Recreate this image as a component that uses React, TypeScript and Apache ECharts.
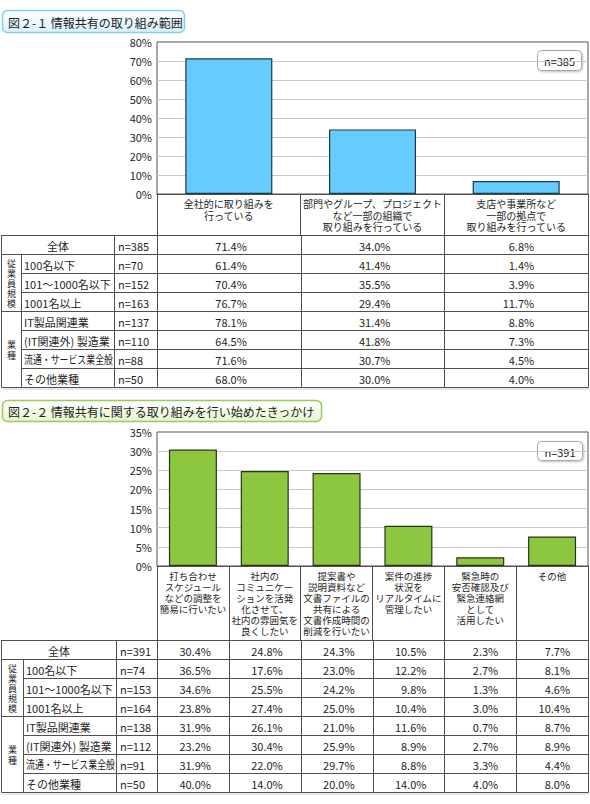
import React, { useEffect, useRef } from 'react';
import * as echarts from 'echarts';

const FONT = '"Noto Sans CJK JP", "Noto Sans", sans-serif';

// ---------- data: chart 1 ----------
const chart1Title = '図２-１ 情報共有の取り組み範囲';
const chart1Categories = [
  '全社的に取り組みを\n行っている',
  '部門やグループ、プロジェクト\nなど一部の組織で\n取り組みを行っている',
  '支店や事業所など\n一部の拠点で\n取り組みを行っている',
];
const chart1YMin = 0;
const chart1YMax = 80;
const chart1YInterval = 10;
const chart1N = [385, 70, 152, 163, 137, 110, 88, 50];
const chart1Rows = [
  [71.4, 34.0, 6.8],
  [61.4, 41.4, 1.4],
  [70.4, 35.5, 3.9],
  [76.7, 29.4, 11.7],
  [78.1, 31.4, 8.8],
  [64.5, 41.8, 7.3],
  [71.6, 30.7, 4.5],
  [68.0, 30.0, 4.0],
];

// ---------- data: chart 2 ----------
const chart2Title = '図２-２ 情報共有に関する取り組みを行い始めたきっかけ';
const chart2Categories = [
  '打ち合わせ\nスケジュール\nなどの調整を\n簡易に行いたい',
  '社内の\nコミュニケー\nションを活発\n化させて、\n社内の雰囲気を\n良くしたい',
  '提案書や\n説明資料など\n文書ファイルの\n共有による\n文書作成時間の\n削減を行いたい',
  '案件の進捗\n状況を\nリアルタイムに\n管理したい',
  '緊急時の\n安否確認及び\n緊急連絡網\nとして\n活用したい',
  'その他',
];
const chart2YMin = 0;
const chart2YMax = 35;
const chart2YInterval = 5;
const chart2N = [391, 74, 153, 164, 138, 112, 91, 50];
const chart2Rows = [
  [30.4, 24.8, 24.3, 10.5, 2.3, 7.7],
  [36.5, 17.6, 23.0, 12.2, 2.7, 8.1],
  [34.6, 25.5, 24.2, 9.8, 1.3, 4.6],
  [23.8, 27.4, 25.0, 10.4, 3.0, 10.4],
  [31.9, 26.1, 21.0, 11.6, 0.7, 8.7],
  [23.2, 30.4, 25.9, 8.9, 2.7, 8.9],
  [31.9, 22.0, 29.7, 8.8, 3.3, 4.4],
  [40.0, 14.0, 20.0, 14.0, 4.0, 8.0],
];

// ---------- shared table labels ----------
const rowLabels = [
  '全体',
  '100名以下',
  '101～1000名以下',
  '1001名以上',
  'IT製品関連業',
  '(IT関連外) 製造業',
  '流通・サービス業全般',
  'その他業種',
];
const groupLabels = ['従業員規模', '業種'];

// ---------- layout ----------
const PLOT_L = 157;
const PLOT_R = 588;
const ROW_H = 19;

const L1 = {
  title: { x: 2, y: 10, w: 182, h: 22, stroke: '#86cdef', fill2: '#d9f1fc' },
  top: 42, bottom: 194, tableTop: 235, groupR: 21, labelR: 114,
  nBox: { x: 537, y: 50, w: 44, h: 20 },
  labelSize: 10, labelLH: 11.5,
};
const L2 = {
  title: { x: 2, y: 400, w: 319, h: 21, stroke: '#9acb5c', fill2: '#e6f5d2' },
  top: 432, bottom: 566, tableTop: 640, groupR: 23, labelR: 116,
  nBox: { x: 537, y: 441, w: 45, h: 19 },
  labelSize: 9.5, labelLH: 11,
};

let measureCtx: CanvasRenderingContext2D | null = null;
function textWidth(text: string, size: number): number {
  if (!measureCtx) {
    const c = document.createElement('canvas');
    measureCtx = c.getContext('2d');
  }
  if (!measureCtx) return text.length * size;
  measureCtx.font = `${size}px ${FONT}`;
  return measureCtx.measureText(text).width;
}

const fmt = (v: number) => v.toFixed(1) + '%';

function titleBox(cfg: any, text: string): any[] {
  const t = cfg.title;
  return [
    {
      type: 'rect',
      silent: true,
      shape: { x: t.x + 0.5, y: t.y + 0.5, width: t.w, height: t.h, r: 5 },
      style: {
        fill: new echarts.graphic.LinearGradient(0, 0, 0, 1, [
          { offset: 0, color: '#ffffff' },
          { offset: 1, color: t.fill2 },
        ]),
        stroke: t.stroke,
        lineWidth: 1.5,
      },
    },
    {
      type: 'text',
      silent: true,
      x: t.x + 6,
      y: t.y + t.h / 2 + 1,
      style: {
        text,
        fontSize: 12,
        fontFamily: FONT,
        fill: '#222',
        textAlign: 'left',
        textVerticalAlign: 'middle',
      },
    },
  ];
}

function nBox(cfg: any, n: number): any[] {
  const b = cfg.nBox;
  return [
    {
      type: 'rect',
      silent: true,
      shape: { x: b.x + 0.5, y: b.y + 0.5, width: b.w, height: b.h, r: 4 },
      style: {
        fill: '#ffffff',
        stroke: '#a8a8a8',
        lineWidth: 1,
        shadowBlur: 2,
        shadowOffsetX: 1,
        shadowOffsetY: 1,
        shadowColor: 'rgba(0,0,0,0.25)',
      },
    },
    {
      type: 'text',
      silent: true,
      x: b.x + b.w / 2 + 0.5,
      y: b.y + b.h / 2 + 1,
      style: {
        text: 'n=' + n,
        fontSize: 11,
        fontFamily: FONT,
        fill: '#222',
        textAlign: 'center',
        textVerticalAlign: 'middle',
      },
    },
  ];
}

function table(cfg: any, rows: number[][], ns: number[]): any[] {
  const els: any[] = [];
  const top = cfg.tableTop;
  const nRows = rows.length;
  const bottom = top + ROW_H * nRows;
  const L = 1.5;
  const R = PLOT_R + 0.5;
  const gR = cfg.groupR + 0.5;
  const lR = cfg.labelR + 0.5;
  const line = (x1: number, y1: number, x2: number, y2: number, color = '#505050') =>
    els.push({ type: 'line', silent: true, shape: { x1, y1, x2, y2 }, style: { stroke: color, lineWidth: 1 } });

  // shadow under table
  line(L + 1, bottom + 2, R + 1, bottom + 2, '#d0d0d0');

  const inner = [2, 3, 5, 6, 7];
  for (let k = 0; k <= nRows; k++) {
    const y = top + k * ROW_H + 0.5;
    line(inner.indexOf(k) >= 0 ? gR : L, y, R, y);
  }
  line(L, top, L, bottom + 0.5);
  line(gR, top + ROW_H, gR, bottom + 0.5);
  line(lR, top, lR, bottom + 0.5);
  const nCat = rows[0].length;
  const cw = (PLOT_R - PLOT_L) / nCat;
  for (let i = 0; i <= nCat; i++) {
    const x = Math.round(PLOT_L + i * cw) + 0.5;
    line(x, top, x, bottom + 0.5);
  }

  const txt = (text: string, x: number, y: number, align: string, size = 11, maxW = 0) => {
    let sx = 1;
    if (maxW > 0) {
      const w = textWidth(text, size);
      if (w > maxW) sx = maxW / w;
    }
    els.push({
      type: 'text',
      silent: true,
      x,
      y,
      scaleX: sx,
      style: {
        text,
        fontSize: size,
        fontFamily: FONT,
        fill: '#1e1e1e',
        textAlign: align,
        textVerticalAlign: 'middle',
      },
    });
  };

  for (let r = 0; r < nRows; r++) {
    const cy = top + r * ROW_H + ROW_H / 2 + 1;
    if (r === 0) {
      txt(rowLabels[r], (L + lR) / 2, cy, 'center');
    } else {
      txt(rowLabels[r], gR + 2.5, cy, 'left', 11, lR - gR - 4);
    }
    txt('n=' + ns[r], lR + 3.5, cy, 'left');
    for (let c = 0; c < nCat; c++) {
      const cx = PLOT_L + (c + 0.5) * cw;
      txt(fmt(rows[r][c]), cx + 18, cy, 'right');
    }
  }
  // group labels (vertical, one character per text so they never overlap)
  const vert = (label: string, cy: number, step: number) => {
    const chars = label.split('');
    const y0 = cy - ((chars.length - 1) * step) / 2;
    chars.forEach((ch, i) => {
      els.push({
        type: 'text',
        silent: true,
        x: (L + gR) / 2,
        y: y0 + i * step,
        style: {
          text: ch,
          fontSize: 9,
          fontFamily: FONT,
          fill: '#1e1e1e',
          textAlign: 'center',
          textVerticalAlign: 'middle',
        },
      });
    });
  };
  vert(groupLabels[0], top + ROW_H * 1 + (ROW_H * 3) / 2 + 1, 10);
  vert(groupLabels[1], top + ROW_H * 4 + (ROW_H * 4) / 2 + 1, 10.5);
  return els;
}

function xAxisCfg(gridIndex: number, data: string[], tickLen: number, size: number, lineHeight: number) {
  return {
    type: 'category',
    gridIndex,
    data,
    boundaryGap: true,
    axisLine: { show: true, lineStyle: { color: '#505050', width: 1 } },
    axisTick: { show: true, length: tickLen, interval: 0, alignWithLabel: false, lineStyle: { color: '#505050', width: 1 } },
    axisLabel: {
      interval: 0,
      margin: 4,
      fontSize: size,
      lineHeight,
      color: '#1e1e1e',
      fontFamily: FONT,
      align: 'center',
      verticalAlign: 'top',
    },
    splitLine: { show: false },
  };
}

function yAxisCfg(gridIndex: number, min: number, max: number, interval: number) {
  return {
    type: 'value',
    gridIndex,
    min,
    max,
    interval,
    axisLine: { show: false },
    axisTick: { show: false },
    axisLabel: { formatter: '{value}%', fontSize: 11, color: '#262626', margin: 5, fontFamily: FONT },
    splitLine: { show: true, showMinLine: false, showMaxLine: false, lineStyle: { color: '#c9c9c9', width: 1 } },
  };
}

export default function App() {
  const ref = useRef<HTMLDivElement>(null);
  useEffect(() => {
    if (!ref.current) return;
    const chart = echarts.init(ref.current, undefined, { renderer: 'svg' });
    const option: any = {
      animation: false,
      backgroundColor: '#ffffff',
      textStyle: { fontFamily: FONT },
      grid: [
        { left: PLOT_L, top: L1.top, width: PLOT_R - PLOT_L, height: L1.bottom - L1.top, show: true, borderColor: '#505050', borderWidth: 1, backgroundColor: '#fff' },
        { left: PLOT_L, top: L2.top, width: PLOT_R - PLOT_L, height: L2.bottom - L2.top, show: true, borderColor: '#505050', borderWidth: 1, backgroundColor: '#fff' },
      ],
      xAxis: [
        xAxisCfg(0, chart1Categories, L1.tableTop - L1.bottom, L1.labelSize, L1.labelLH),
        xAxisCfg(1, chart2Categories, L2.tableTop - L2.bottom, L2.labelSize, L2.labelLH),
      ],
      yAxis: [
        yAxisCfg(0, chart1YMin, chart1YMax, chart1YInterval),
        yAxisCfg(1, chart2YMin, chart2YMax, chart2YInterval),
      ],
      series: [
        {
          type: 'bar',
          xAxisIndex: 0,
          yAxisIndex: 0,
          data: chart1Rows[0],
          barWidth: 87,
          silent: true,
          itemStyle: { color: '#66ccff', borderColor: '#1d3846', borderWidth: 1.2 },
        },
        {
          type: 'bar',
          xAxisIndex: 1,
          yAxisIndex: 1,
          data: chart2Rows[0],
          barWidth: 48,
          silent: true,
          itemStyle: { color: '#8dc63f', borderColor: '#27361a', borderWidth: 1.2 },
        },
      ],
      graphic: [
        ...titleBox(L1, chart1Title),
        ...nBox(L1, chart1N[0]),
        ...table(L1, chart1Rows, chart1N),
        ...titleBox(L2, chart2Title),
        ...nBox(L2, chart2N[0]),
        ...table(L2, chart2Rows, chart2N),
      ],
    };
    chart.setOption(option);
    return () => chart.dispose();
  }, []);
  return (
    <div
      ref={ref}
      style={{ position: 'absolute', left: 0, top: 0, width: 590, height: 804, background: '#fff' }}
    />
  );
}
